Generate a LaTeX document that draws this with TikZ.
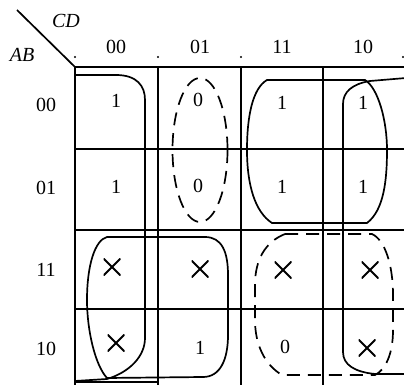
\documentclass[tikz,border=0pt]{standalone}
\usepackage{fontspec}
\setmainfont{Liberation Serif}
\begin{document}
\begin{tikzpicture}[x=1pt,y=-1pt,
  gridline/.style={line width=2.1pt},
  loop/.style={line width=1.7pt},
  dloop/.style={line width=1.7pt,dash pattern=on 13pt off 8pt},
  lab/.style={inner sep=0pt,font=\fontsize{20}{24}\selectfont},
  ilab/.style={inner sep=0pt,font=\fontsize{20}{24}\selectfont\itshape},
  cell/.style={inner sep=0pt,font=\fontsize{20}{24}\selectfont},
  xmark/.style={inner sep=0pt,minimum size=17pt,
    path picture={\draw[line width=1.9pt]
      (path picture bounding box.north west) -- (path picture bounding box.south east)
      (path picture bounding box.north east) -- (path picture bounding box.south west);}},
  tick/.style={circle,fill,inner sep=0pt,minimum size=2.4pt}
]
\useasboundingbox (0,0) rectangle (404,385);

% corner and labels
\coordinate (dstart) at (17,10);
\coordinate (corner) at (75,67);
\draw[line width=1.7pt] (dstart) -- (corner);
\node[ilab] (cd) at (66,21) {CD};
\node[ilab] (ab) at (22,55) {AB};

% ticks
\node[tick] (t1) at (75,57) {};
\node[tick] (t2) at (158,57) {};
\node[tick] (t3) at (241,57) {};
\node[tick] (t4) at (403,57) {};

% column labels
\node[lab] (c00) at (116,47) {00};
\node[lab] (c01) at (200,47) {01};
\node[lab] (c11) at (282,47) {11};
\node[lab] (c10) at (363,47) {10};
% row labels
\node[lab] (r00) at (46,105) {00};
\node[lab] (r01) at (46,188) {01};
\node[lab] (r11) at (46,270) {11};
\node[lab] (r10) at (46,349) {10};

% grid
\draw[gridline] (75,67) -- (406,67);
\draw[gridline] (75,149) -- (406,149);
\draw[gridline] (75,230) -- (406,230);
\draw[gridline] (75,309) -- (406,309);
\draw[gridline] (75,382) -- (158,382);
\draw[gridline] (75,67) -- (75,387);
\draw[gridline] (158,67) -- (158,387);
\draw[gridline] (241,67) -- (241,387);
\draw[gridline] (323,67) -- (323,387);

% cells
\node[cell] (m0) at (116,101) {1};
\node[cell] (m1) at (198,100) {0};
\node[cell] (m3) at (282,103) {1};
\node[cell] (m2) at (363,103) {1};
\node[cell] (m4) at (116,187) {1};
\node[cell] (m5) at (198,186) {0};
\node[cell] (m7) at (282,187) {1};
\node[cell] (m6) at (363,187) {1};
\node[xmark] (m12) at (112,267) {};
\node[xmark] (m13) at (200,269) {};
\node[xmark] (m15) at (283,270) {};
\node[xmark] (m14) at (370,270) {};
\node[xmark] (m8) at (116,343) {};
\node[cell] (m9) at (200,348) {1};
\node[cell] (m11) at (285,347) {0};
\node[xmark] (m10) at (367,348) {};

% column 00 loop (open on the left)
\draw[loop] (75,75) -- (116,75) .. controls (137,75) and (145,86) .. (145,100)
  -- (145,338) .. controls (145,356) and (130,372) .. (107,379) -- (75,381);
% column 10 loop (open on the right)
\draw[loop] (406,78) -- (370,81) .. controls (352,84) and (343,92) .. (343,104)
  -- (343,352) .. controls (343,365) and (355,372) .. (375,374) -- (406,374);
% AC' quad
\draw[loop] (107,237) -- (205,237) .. controls (222,237) and (228,252) .. (228,275)
  -- (228,335) .. controls (228,360) and (220,377) .. (203,377) -- (107,378)
  .. controls (95,365) and (87,330) .. (87,300) .. controls (87,265) and (95,240) .. (107,237) -- cycle;
% A'C quad
\draw[loop] (267,80) -- (365,80) .. controls (378,88) and (387,120) .. (387,150)
  .. controls (387,180) and (384,210) .. (367,223) -- (272,223)
  .. controls (255,212) and (247,185) .. (247,150) .. controls (247,115) and (253,88) .. (267,80) -- cycle;
% dashed ellipse
\draw[dloop] (200,150) ellipse [x radius=27.5, y radius=72];
% dashed AC loop
\draw[dloop] (285,234) -- (372,234) .. controls (385,240) and (393,265) .. (393,295)
  -- (393,330) .. controls (393,355) and (385,370) .. (375,375) -- (282,375)
  .. controls (265,365) and (255,345) .. (255,320) -- (255,285)
  .. controls (255,260) and (265,242) .. (285,234) -- cycle;
\end{tikzpicture}
\end{document}
